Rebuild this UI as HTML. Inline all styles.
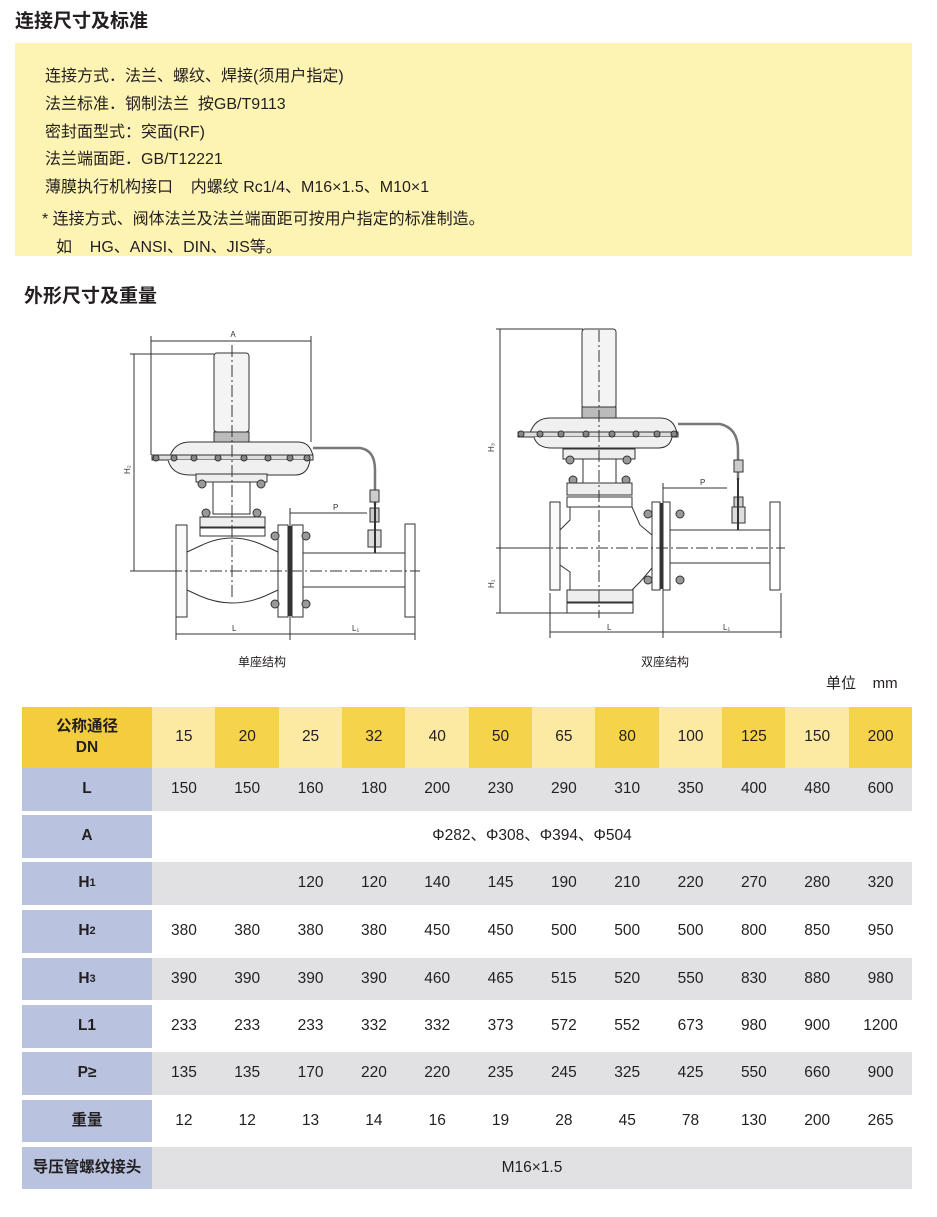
<!DOCTYPE html>
<html><head><meta charset="utf-8">
<style>
*{margin:0;padding:0;box-sizing:border-box}
body{width:937px;height:1217px;background:#fff;position:relative;overflow:hidden;font-family:"Liberation Sans","Noto Sans CJK SC",sans-serif;color:#231f20}
.h{position:absolute;font-size:19px;font-weight:bold;left:15px}
.box{position:absolute;left:15px;top:43px;width:897px;height:213px;background:#fdf3b3}
.t{position:absolute;left:45px;font-size:16px;white-space:nowrap}
.c{position:absolute;display:flex;align-items:center;justify-content:center;font-size:15.5px;text-align:center;line-height:1.3}
.lb{font-weight:bold;background:#b9c3e0}
svg text{font-family:"Liberation Sans","Noto Sans CJK SC",sans-serif}
</style></head><body>
<div class="h" style="top:6px">连接尺寸及标准</div>
<div class="box"></div>
<div class="t" style="top:62px">连接方式．法兰、螺纹、焊接(须用户指定)</div>
<div class="t" style="top:90px">法兰标准．钢制法兰&nbsp; 按GB/T9113</div>
<div class="t" style="top:118px">密封面型式：突面(RF)</div>
<div class="t" style="top:145px">法兰端面距．GB/T12221</div>
<div class="t" style="top:173px">薄膜执行机构接口&nbsp;&nbsp;&nbsp; 内螺纹 Rc1/4、M16×1.5、M10×1</div>
<div class="t" style="top:205px;left:42px">* 连接方式、阀体法兰及法兰端面距可按用户指定的标准制造。</div>
<div class="t" style="top:233px;left:56px">如&nbsp;&nbsp;&nbsp; HG、ANSI、DIN、JIS等。</div>
<div class="h" style="top:281px;left:24px">外形尺寸及重量</div>

<svg style="position:absolute;left:0;top:0" width="937" height="700" fill="none" stroke="#333" stroke-width="1">
<!-- LEFT -->
<g>
<line x1="151" y1="341" x2="311" y2="341"/><line x1="151" y1="336" x2="151" y2="455"/><line x1="311" y1="336" x2="311" y2="442"/>
<text x="233" y="337" font-size="8" fill="#333" stroke="none" text-anchor="middle">A</text>
<line x1="134" y1="354" x2="134" y2="571"/><line x1="130" y1="354" x2="214" y2="354"/><line x1="130" y1="571" x2="180" y2="571"/>
<text x="130" y="474" font-size="8" fill="#333" stroke="none" transform="rotate(-90 130 474)">H₂</text>
<rect x="214" y="353" width="35" height="79" rx="3" fill="#f4f4f4"/>
<rect x="214" y="432" width="35" height="10" fill="#bbb"/>
<path d="M170 456 Q175 442 190 442 L298 442 Q310 442 313 456 Z" fill="#f0f0f0"/>
<rect x="152" y="455" width="161" height="5" fill="#ddd"/>
<path d="M168 460 Q172 475 190 475 L295 475 Q308 475 310 460" fill="#f0f0f0"/>
<g fill="#888"><circle cx="156" cy="458" r="3"/><circle cx="174" cy="458" r="3"/><circle cx="194" cy="458" r="3"/><circle cx="218" cy="458" r="3"/><circle cx="244" cy="458" r="3"/><circle cx="268" cy="458" r="3"/><circle cx="290" cy="458" r="3"/><circle cx="307" cy="458" r="3"/></g>
<rect x="196" y="474" width="71" height="8" fill="#eee"/>
<circle cx="202" cy="484" r="4" fill="#999"/><circle cx="261" cy="484" r="4" fill="#999"/>
<rect x="213" y="482" width="37" height="32"/>
<circle cx="206" cy="513" r="4" fill="#999"/><circle cx="257" cy="513" r="4" fill="#999"/>
<rect x="200" y="517" width="65" height="10" fill="#eee"/><rect x="200" y="528" width="65" height="8"/>
<path d="M187 552 L200 546 Q232 530 265 546 L278 552 M187 590 L200 596 Q232 610 265 596 L278 590"/>
<rect x="176" y="525" width="11" height="92" fill="#fafafa"/>
<rect x="278" y="525" width="10" height="92"/><rect x="292" y="525" width="11" height="92"/>
<line x1="290" y1="526" x2="290" y2="616" stroke-width="3"/>
<circle cx="275" cy="536" r="4" fill="#999"/><circle cx="306" cy="536" r="4" fill="#999"/><circle cx="275" cy="604" r="4" fill="#999"/><circle cx="306" cy="604" r="4" fill="#999"/>
<rect x="303" y="553" width="102" height="34"/>
<rect x="405" y="524" width="10" height="93"/>
<line x1="150" y1="571" x2="420" y2="571" stroke-dasharray="12 3 2 3"/>
<line x1="232" y1="345" x2="232" y2="600" stroke-dasharray="12 3 2 3"/>
<path d="M313 448 L360 448 Q375 450 375 470 L375 505" stroke-width="2.5" stroke="#777"/>
<rect x="370" y="490" width="9" height="12" fill="#ccc"/><rect x="370" y="508" width="9" height="14" fill="#ccc"/>
<rect x="368" y="530" width="13" height="17" fill="#ddd"/><line x1="375" y1="502" x2="375" y2="553" stroke-width="2"/>
<line x1="290" y1="513" x2="367" y2="513"/><line x1="290" y1="508" x2="290" y2="640"/>
<text x="333" y="510" font-size="8" fill="#333" stroke="none">P</text>
<line x1="176" y1="634" x2="415" y2="634"/><line x1="176" y1="617" x2="176" y2="640"/><line x1="415" y1="617" x2="415" y2="640"/>
<text x="232" y="631" font-size="8" fill="#333" stroke="none">L</text><text x="352" y="631" font-size="8" fill="#333" stroke="none">L₁</text>
</g>
<!-- RIGHT -->
<g>
<line x1="500" y1="329" x2="500" y2="613"/><line x1="496" y1="329" x2="583" y2="329"/><line x1="496" y1="548" x2="550" y2="548"/><line x1="496" y1="613" x2="568" y2="613"/>
<text x="494" y="452" font-size="8" fill="#333" stroke="none" transform="rotate(-90 494 452)">H₃</text>
<text x="494" y="588" font-size="8" fill="#333" stroke="none" transform="rotate(-90 494 588)">H₁</text>
<rect x="582" y="329" width="34" height="79" rx="3" fill="#f4f4f4"/>
<rect x="582" y="407" width="34" height="11" fill="#bbb"/>
<path d="M530 433 Q535 418 550 418 L660 418 Q674 418 677 433 Z" fill="#f0f0f0"/>
<rect x="518" y="432" width="160" height="5" fill="#ddd"/>
<path d="M534 437 Q537 448 552 448 L658 448 Q670 448 672 437" fill="#f0f0f0"/>
<g fill="#888"><circle cx="521" cy="434" r="3"/><circle cx="540" cy="434" r="3"/><circle cx="561" cy="434" r="3"/><circle cx="586" cy="434" r="3"/><circle cx="612" cy="434" r="3"/><circle cx="636" cy="434" r="3"/><circle cx="657" cy="434" r="3"/><circle cx="674" cy="434" r="3"/></g>
<rect x="563" y="449" width="72" height="10" fill="#eee"/>
<circle cx="570" cy="460" r="4" fill="#999"/><circle cx="627" cy="460" r="4" fill="#999"/>
<rect x="583" y="459" width="33" height="24"/>
<circle cx="573" cy="480" r="4" fill="#999"/><circle cx="626" cy="480" r="4" fill="#999"/>
<rect x="567" y="483" width="65" height="12" fill="#eee"/><rect x="567" y="497" width="65" height="10"/>
<path d="M570 507 L570 520 L560 530 M632 507 L640 525 L652 535 M560 565 L570 572 L570 590 M652 568 L640 582 L632 590"/>
<rect x="550" y="502" width="10" height="88" fill="#fafafa"/>
<rect x="567" y="590" width="66" height="12" fill="#eee"/><rect x="567" y="603" width="66" height="10"/>
<rect x="652" y="502" width="8" height="88"/><rect x="663" y="502" width="7" height="88"/>
<line x1="661" y1="503" x2="661" y2="589" stroke-width="3"/>
<circle cx="648" cy="514" r="4" fill="#999"/><circle cx="680" cy="514" r="4" fill="#999"/><circle cx="648" cy="580" r="4" fill="#999"/><circle cx="680" cy="580" r="4" fill="#999"/>
<rect x="670" y="530" width="100" height="33"/>
<rect x="770" y="502" width="10" height="88"/>
<line x1="496" y1="548" x2="785" y2="548" stroke-dasharray="12 3 2 3"/>
<line x1="599" y1="330" x2="599" y2="618" stroke-dasharray="12 3 2 3"/>
<path d="M678 424 L720 424 Q738 428 738 450 L738 480" stroke-width="2.5" stroke="#777"/>
<rect x="734" y="460" width="9" height="12" fill="#ccc"/><rect x="734" y="497" width="9" height="12" fill="#ccc"/>
<rect x="732" y="507" width="13" height="16" fill="#ddd"/><line x1="738" y1="478" x2="738" y2="530" stroke-width="2"/>
<line x1="663" y1="488" x2="727" y2="488"/><line x1="663" y1="483" x2="663" y2="638"/>
<text x="700" y="485" font-size="8" fill="#333" stroke="none">P</text>
<line x1="550" y1="632" x2="781" y2="632"/><line x1="550" y1="593" x2="550" y2="638"/><line x1="781" y1="593" x2="781" y2="638"/>
<text x="607" y="630" font-size="8" fill="#333" stroke="none">L</text><text x="723" y="630" font-size="8" fill="#333" stroke="none">L₁</text>
</g>
<text x="262" y="666" font-size="12" fill="#231f20" stroke="none" text-anchor="middle">单座结构</text>
<text x="665" y="666" font-size="12" fill="#231f20" stroke="none" text-anchor="middle">双座结构</text>
<text x="826" y="688" font-size="15" fill="#231f20" stroke="none">单位&#160;&#160;&#160; mm</text>
</svg>

<div id="tb"></div>
<script>
(function(){
var tb=document.getElementById('tb');
var X0=152,W=63.33;
var heads=['15','20','25','32','40','50','65','80','100','125','150','200'];
var rows=[
['L',['150','150','160','180','200','230','290','310','350','400','480','600'],768,43,true],
['A',null,815,43,false],
['H<span style="font-size:11px">1</span>',['','','120','120','140','145','190','210','220','270','280','320'],862,43,true],
['H<span style="font-size:11px">2</span>',['380','380','380','380','450','450','500','500','500','800','850','950'],910,43,false],
['H<span style="font-size:11px">3</span>',['390','390','390','390','460','465','515','520','550','830','880','980'],958,42,true],
['L1',['233','233','233','332','332','373','572','552','673','980','900','1200'],1005,43,false],
['P≥',['135','135','170','220','220','235','245','325','425','550','660','900'],1052,43,true],
['重量',['12','12','13','14','16','19','28','45','78','130','200','265'],1100,42,false],
['导压管螺纹接头',null,1147,42,true]];
var h='';
h+='<div class="c" style="left:22px;top:707px;width:130px;height:61px;background:#f3cd3d;font-weight:bold">公称通径<br>DN</div>';
for(var i=0;i<12;i++){h+='<div class="c" style="left:'+(X0+i*W)+'px;top:707px;width:'+(W+0.5)+'px;height:61px;background:'+(i%2?'#f5d34b':'#fce9a2')+'">'+heads[i]+'</div>';}
rows.forEach(function(r){
 h+='<div class="c lb" style="left:22px;top:'+r[2]+'px;width:130px;height:'+r[3]+'px">'+r[0]+'</div>';
 var bg=r[4]?'#e1e1e3':'#fff';
 if(r[1]){for(var i=0;i<12;i++){h+='<div class="c" style="left:'+(X0+i*W)+'px;top:'+r[2]+'px;width:'+(W+0.5)+'px;height:'+r[3]+'px;background:'+bg+'">'+r[1][i]+'</div>';}}
 else{h+='<div class="c" style="left:152px;top:'+r[2]+'px;width:760px;height:'+r[3]+'px;background:'+bg+'">'+(r[0]=='A'?'Φ282、Φ308、Φ394、Φ504':'M16×1.5')+'</div>';}
});
tb.innerHTML=h;
})();
</script>
</body></html>
